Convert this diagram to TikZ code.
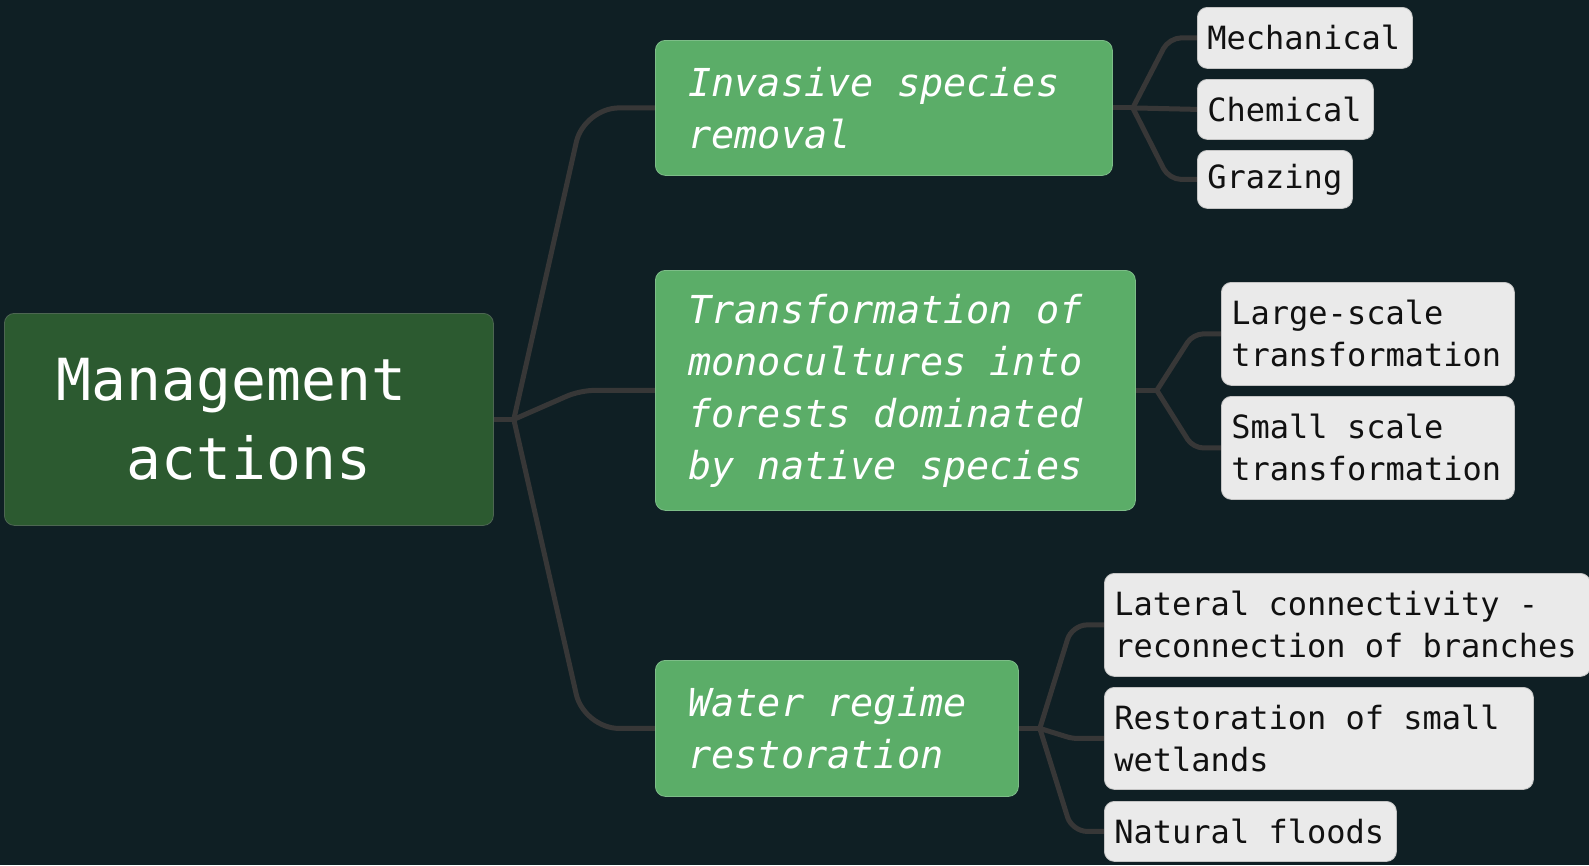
\documentclass[tikz,border=0pt]{standalone}
\usepackage{fontspec}
\newfontfamily\monofont{DejaVu Sans Mono}
\usetikzlibrary{calc}
\definecolor{bg}{HTML}{0F1F24}
\definecolor{rootfill}{HTML}{2C5A30}
\definecolor{rootedge}{HTML}{4D6652}
\definecolor{midfill}{HTML}{5BAD68}
\definecolor{midedge}{HTML}{7DBD88}
\definecolor{leaffill}{HTML}{EAEAEA}
\definecolor{leafedge}{HTML}{C4C4C4}
\definecolor{linkc}{HTML}{373737}
\definecolor{leaftext}{HTML}{111111}
\pgfdeclarelayer{bgl}
\pgfsetlayers{bgl,main}
\newcommand{\ms}{\spaceskip=0.602em plus 0pt minus 0pt\relax\xspaceskip=\spaceskip}
\begin{document}
\begin{tikzpicture}[x=1pt,y=-1pt,
  rootbox/.style={fill=rootfill, draw=rootedge, line width=0.8pt, rounded corners=10pt,
    inner sep=0pt, text=white, font=\monofont\fontsize{58}{79}\selectfont,
    align=center, anchor=north west},
  midbox/.style={fill=midfill, draw=midedge, line width=0.8pt, rounded corners=10pt,
    inner xsep=33pt, inner ysep=0pt, text=white,
    font=\monofont\itshape\fontsize{38.5}{52}\selectfont, align=left, anchor=north west},
  leafbox/.style={fill=leaffill, draw=leafedge, line width=0.8pt, rounded corners=10pt,
    inner xsep=10pt, inner ysep=0pt, text=leaftext,
    font=\monofont\fontsize{32}{42}\selectfont, align=left, anchor=north west},
  link/.style={draw=linkc, line width=5pt, line cap=round, line join=round}]

\useasboundingbox (0,0) rectangle (1589,865);

% root
\node[rootbox, minimum width=489pt, minimum height=212pt] (root) at (4,313)
  {Management\hphantom{x}\\actions};

% level 1
\node[midbox, minimum width=457pt, minimum height=135pt, text width=391pt] (b1) at (655,40)
  {\ms Invasive species\\removal};
\node[midbox, minimum width=480pt, minimum height=240pt, text width=414pt] (b2) at (655,270)
  {\ms Transformation of\\monocultures into\\forests dominated\\by native species};
\node[midbox, minimum width=363pt, minimum height=136pt, text width=297pt] (b3) at (655,660)
  {\ms Water regime\\restoration};

% leaves
\node[leafbox, minimum width=215pt, minimum height=61pt, text width=195pt] (l11) at (1197,7) {Mechanical};
\node[leafbox, minimum width=176pt, minimum height=60pt, text width=156pt] (l12) at (1197,79) {Chemical};
\node[leafbox, minimum width=155pt, minimum height=58pt, text width=135pt] (l13) at (1197,150) {Grazing};

\node[leafbox, minimum width=293pt, minimum height=103pt, text width=273pt] (l21) at (1221,282)
  {Large-scale\\transformation};
\node[leafbox, minimum width=293pt, minimum height=103pt, text width=273pt] (l22) at (1221,396)
  {\ms Small scale\\transformation};

\node[leafbox, minimum width=486pt, minimum height=103pt, text width=466pt] (l31) at (1104,573)
  {\ms Lateral connectivity -\\reconnection of branches};
\node[leafbox, minimum width=429pt, minimum height=102pt, text width=409pt] (l32) at (1104,687)
  {\ms Restoration of small\\wetlands};
\node[leafbox, minimum width=292pt, minimum height=60pt, text width=272pt] (l33) at (1104,801)
  {\ms Natural floods};

\coordinate (j0) at ([xshift=20pt]root.east);
\coordinate (j1) at ([xshift=20pt]b1.east);
\coordinate (j2) at ([xshift=21pt]b2.east);
\coordinate (j3) at ([xshift=21pt]b3.east);

\begin{pgfonlayer}{bgl}
\fill[bg] (0,0) rectangle (1589,865);
% root to level 1
\draw[link] (root.east) -- (j0);
\draw[link, rounded corners=35pt] (j0) -- ([xshift=-71pt]b1.west) -- (b1.west);
\draw[link, rounded corners=14pt] (j0) -- ([xshift=-75pt]b2.west) -- (b2.west);
\draw[link, rounded corners=35pt] (j0) -- ([xshift=-71pt]b3.west) -- (b3.west);
% b1 leaves
\draw[link] (b1.east) -- (j1);
\draw[link, rounded corners=12pt] (j1) -- ([xshift=-28pt]l11.west) -- (l11.west);
\draw[link] (j1) -- (l12.west);
\draw[link, rounded corners=12pt] (j1) -- ([xshift=-28pt]l13.west) -- (l13.west);
% b2 leaves
\draw[link] (b2.east) -- (j2);
\draw[link, rounded corners=10pt] (j2) -- ([xshift=-28pt]l21.west) -- (l21.west);
\draw[link, rounded corners=10pt] (j2) -- ([xshift=-28pt]l22.west) -- (l22.west);
% b3 leaves
\draw[link] (b3.east) -- (j3);
\draw[link, rounded corners=15pt] (j3) -- ([xshift=-32pt]l31.west) -- (l31.west);
\draw[link, rounded corners=5pt] (j3) -- ([xshift=-32pt]l32.west) -- (l32.west);
\draw[link, rounded corners=15pt] (j3) -- ([xshift=-32pt]l33.west) -- (l33.west);
\end{pgfonlayer}
\end{tikzpicture}
\end{document}
